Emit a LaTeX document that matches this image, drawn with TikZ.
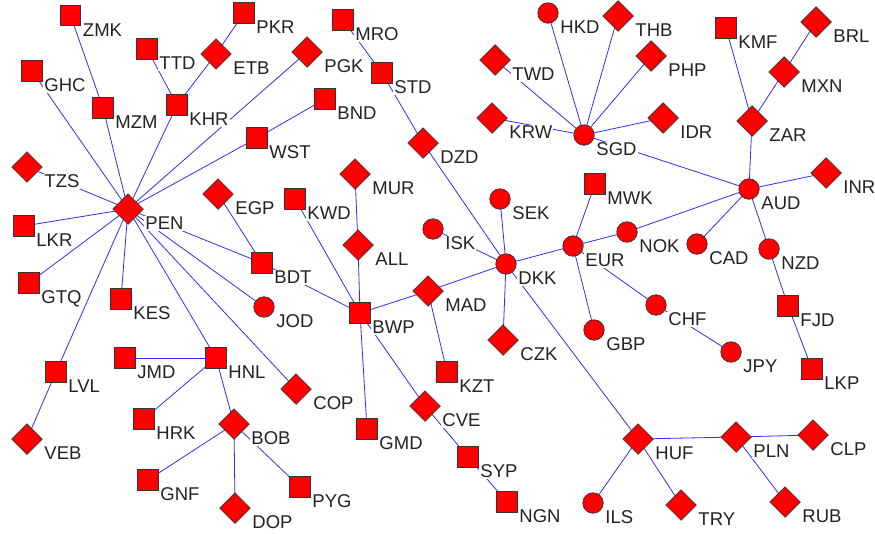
\documentclass[tikz,border=0pt]{standalone}
\usepackage{fontspec}
\setmainfont{Liberation Sans}
\usetikzlibrary{shapes.geometric,backgrounds}
\definecolor{edgeblue}{RGB}{45,45,255}
\definecolor{nodered}{RGB}{255,0,0}
\definecolor{txtgray}{RGB}{35,35,35}
\newcommand\mycur[4]{\node[#1] (#2) at (#3,#4) {};\node[lbl] (#2l) at ([shift={(1,20.5)}]#2.east) {#2};}
\begin{document}
\begin{tikzpicture}[x=1pt,y=-1pt,
  base/.style={draw=black!80, fill=nodered, line width=0.7pt, inner sep=0pt, outer sep=0pt},
  sq/.style={base, rectangle, minimum size=20.5pt},
  dm/.style={base, diamond, minimum size=30.5pt},
  cr/.style={base, circle, minimum size=20.5pt},
  lbl/.style={anchor=base west, fill=white, inner sep=1pt, text=txtgray, font=\fontsize{18.5}{18.5}\selectfont},
  edge/.style={draw=edgeblue, line width=0.8pt}]
\useasboundingbox (0,0) rectangle (875,533);
% squares
\mycur{sq}{ZMK}{70.5}{15.5}
\mycur{sq}{GHC}{32}{71}
\mycur{sq}{TTD}{147}{49}
\mycur{sq}{PKR}{244}{13}
\mycur{sq}{MZM}{103}{108}
\mycur{sq}{KHR}{177}{105}
\mycur{sq}{WST}{257}{138}
\mycur{sq}{MRO}{343}{20}
\mycur{sq}{STD}{382}{73}
\mycur{sq}{BND}{325}{99}
\mycur{sq}{KMF}{726}{28}
\mycur{sq}{MWK}{595}{184}
\mycur{sq}{KWD}{295}{199}
\mycur{sq}{LKR}{24}{226}
\mycur{sq}{GTQ}{29}{283}
\mycur{sq}{KES}{121}{299}
\mycur{sq}{BDT}{262}{263}
\mycur{sq}{BWP}{360}{313}
\mycur{sq}{FJD}{788}{306}
\mycur{sq}{LKP}{812}{369}
\mycur{sq}{LVL}{56}{372}
\mycur{sq}{JMD}{125}{358}
\mycur{sq}{HNL}{216}{358}
\mycur{sq}{HRK}{144}{419}
\mycur{sq}{GNF}{148}{480}
\mycur{sq}{PYG}{300}{487}
\mycur{sq}{GMD}{367}{429}
\mycur{sq}{KZT}{447}{372}
\mycur{sq}{SYP}{468}{457}
\mycur{sq}{NGN}{507}{502}
% diamonds
\mycur{dm}{ETB}{216}{54}
\mycur{dm}{TZS}{27}{167}
\mycur{dm}{PGK}{307}{52}
\mycur{dm}{PEN}{128}{209}
\mycur{dm}{DZD}{423}{143}
\mycur{dm}{MUR}{355}{174}
\mycur{dm}{TWD}{495}{60}
\mycur{dm}{KRW}{492}{118}
\mycur{dm}{THB}{618}{16}
\mycur{dm}{PHP}{651}{56}
\mycur{dm}{IDR}{663}{118}
\mycur{dm}{BRL}{816}{22}
\mycur{dm}{MXN}{784}{72}
\mycur{dm}{ZAR}{752}{121}
\mycur{dm}{INR}{826}{173}
\mycur{dm}{EGP}{218}{194}
\mycur{dm}{ALL}{358}{245}
\mycur{dm}{MAD}{428}{291}
\mycur{dm}{CZK}{503}{340}
\mycur{dm}{VEB}{27}{439}
\mycur{dm}{BOB}{234}{424}
\mycur{dm}{DOP}{235}{508}
\mycur{dm}{COP}{296}{389}
\mycur{dm}{CVE}{425}{406}
\mycur{dm}{HUF}{638}{439}
\mycur{dm}{PLN}{736}{437}
\mycur{dm}{CLP}{813}{435}
\mycur{dm}{TRY}{681}{505}
\mycur{dm}{RUB}{785}{502}
% circles
\mycur{cr}{HKD}{548}{13}
\mycur{cr}{SGD}{584}{135}
\mycur{cr}{AUD}{749}{189}
\mycur{cr}{NOK}{627}{232}
\mycur{cr}{EUR}{573}{246}
\mycur{cr}{CAD}{697}{244}
\mycur{cr}{NZD}{769}{249}
\mycur{cr}{CHF}{656}{305}
\mycur{cr}{GBP}{594}{330}
\mycur{cr}{JPY}{731}{352}
\mycur{cr}{SEK}{500}{199}
\mycur{cr}{ISK}{433}{229}
\mycur{cr}{DKK}{506}{264}
\mycur{cr}{JOD}{264}{307}
\mycur{cr}{ILS}{593}{503}
% edges
\begin{scope}[on background layer]
\foreach \a/\b in {ZMK/MZM, MZM/PEN, GHC/PEN, TTD/KHR, PKR/ETB, ETB/KHR, KHR/PEN, PGK/PEN, BND/WST, WST/PEN,
  TZS/PEN, LKR/PEN, GTQ/PEN, KES/PEN, BDT/PEN, JOD/PEN, HNL/PEN, COP/PEN, LVL/PEN, LVL/VEB,
  EGP/BDT, BDT/BWP, JMD/HNL, HNL/HRK, HNL/BOB, BOB/GNF, BOB/DOP, BOB/PYG,
  KWD/BWP, MUR/ALL, ALL/BWP, BWP/MAD, BWP/GMD, BWP/CVE, CVE/SYP, SYP/NGN, MAD/KZT, MAD/DKK,
  MRO/STD, STD/DZD, DZD/DKK, ISK/DKK, SEK/DKK, DKK/CZK, DKK/EUR, DKK/HUF,
  HUF/ILS, HUF/TRY, HUF/PLN, PLN/CLP, PLN/RUB,
  EUR/MWK, EUR/NOK, NOK/AUD, EUR/GBP, EUR/CHF, CHF/JPY,
  AUD/SGD, AUD/ZAR, AUD/INR, AUD/CAD, AUD/NZD, NZD/FJD, FJD/LKP, ZAR/KMF, ZAR/MXN, MXN/BRL,
  SGD/HKD, SGD/THB, SGD/PHP, SGD/IDR, SGD/TWD, SGD/KRW}
  \draw[edge] (\a.center) -- (\b.center);
\end{scope}
\end{tikzpicture}
\end{document}
